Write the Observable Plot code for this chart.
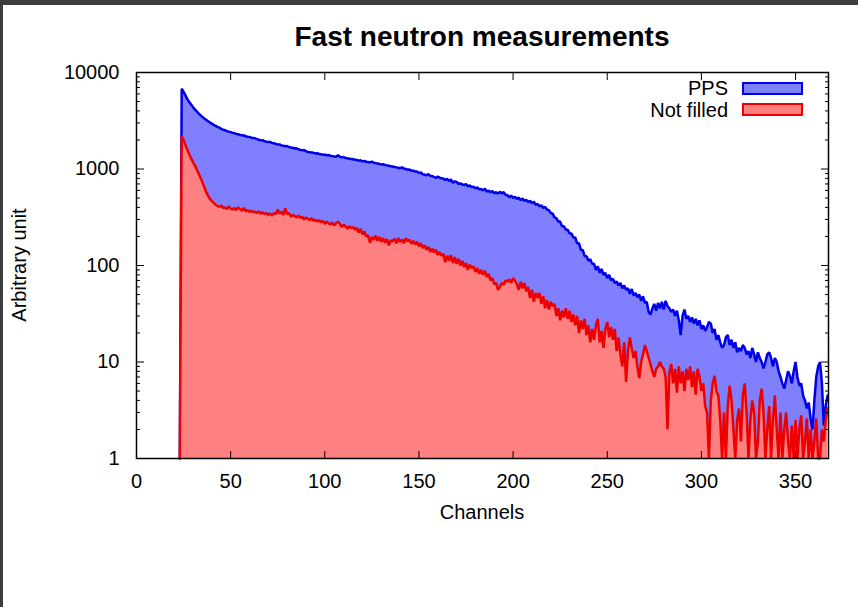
<!DOCTYPE html>
<html>
<head>
<meta charset="utf-8">
<script src="https://cdn.jsdelivr.net/npm/d3@7"></script>
<script src="https://cdn.jsdelivr.net/npm/@observablehq/plot@0.6"></script>
<style>
  html, body { margin: 0; padding: 0; background: #fff; }
  #page { position: relative; width: 858px; height: 607px; background: #fff; overflow: hidden;
          font-family: "Liberation Sans", Arial, Helvetica, sans-serif; color: #000; }
  #chart { position: absolute; left: 0; top: 0; }
  .abs { position: absolute; white-space: nowrap; }
  #title { left: 136px; width: 692px; top: 23px; text-align: center; font-weight: bold; font-size: 28px; line-height: 28px; }
  #xlabel { left: 136px; width: 692px; top: 502px; text-align: center; font-size: 20px; line-height: 20px; }
  #ylabel { left: -81px; top: 255px; width: 200px; height: 20px; text-align: center; font-size: 20px; line-height: 20px; transform: rotate(-90deg); transform-origin: 50% 50%; }
  .legtext { right: 130px; font-size: 20px; line-height: 20px; text-align: right; }
  .swatch { left: 742px; width: 61px; box-sizing: border-box; border-width: 2px; border-style: solid; }
  #bandTop { left: 0; top: 0; width: 858px; height: 5px; background: #3d3d3d; }
  #bandLeft { left: 0; top: 0; width: 3px; height: 607px; background: #3d3d3d; }
</style>
</head>
<body>
<div id="page">
  <div id="chart"></div>
  <div id="title" class="abs">Fast neutron measurements</div>
  <div id="xlabel" class="abs">Channels</div>
  <div id="ylabel" class="abs">Arbitrary unit</div>
  <div id="legend"></div>
  <div id="bandTop" class="abs"></div>
  <div id="bandLeft" class="abs"></div>
</div>
<script>
// ---- data ----
const firstChannel = 23;

const ppsCounts = [
  1, 6800, 6300, 5800, 5300, 4950, 4650, 4380, 4150, 3950,
  3760, 3600, 3470, 3340, 3230, 3130, 3030, 2950, 2870, 2800,
  2730, 2680, 2610, 2560, 2520, 2470, 2440, 2410, 2370, 2350,
  2310, 2290, 2250, 2230, 2240, 2180, 2160, 2150, 2110, 2090,
  2080, 2040, 2010, 1980, 1990, 1940, 1920, 1900, 1910, 1860,
  1850, 1820, 1790, 1800, 1750, 1740, 1720, 1730, 1690, 1670,
  1660, 1630, 1640, 1600, 1580, 1560, 1570, 1530, 1500, 1490,
  1480, 1470, 1450, 1460, 1430, 1420, 1400, 1410, 1390, 1400,
  1370, 1360, 1350, 1340, 1390, 1340, 1320, 1330, 1300, 1290,
  1280, 1270, 1260, 1250, 1240, 1220, 1230, 1200, 1210, 1190,
  1180, 1170, 1190, 1160, 1150, 1140, 1130, 1110, 1120, 1100,
  1090, 1080, 1070, 1060, 1050, 1040, 1030, 1020, 1040, 1010,
  1000, 985, 990, 960, 965, 940, 945, 910, 920, 880,
  875, 860, 885, 850, 845, 830, 805, 835, 815, 800,
  795, 770, 790, 750, 780, 720, 745, 735, 700, 710,
  690, 680, 700, 660, 675, 650, 655, 630, 645, 615,
  620, 600, 625, 585, 595, 575, 590, 560, 575, 555,
  580, 560, 575, 540, 535, 510, 530, 500, 515, 490,
  505, 475, 495, 465, 480, 455, 470, 440, 460, 425,
  435, 410, 420, 395, 405, 380, 375, 350, 345, 315,
  310, 285, 285, 255, 255, 235, 235, 215, 215, 195,
  195, 170, 170, 145, 145, 125, 125, 112, 116, 104,
  104, 90, 98, 84, 92, 80, 84, 74, 80, 70,
  73, 66, 68, 62, 66, 58, 62, 56, 58, 51,
  57, 49, 52, 47, 50, 43, 48, 41, 42, 33,
  31, 36, 40, 34, 41, 36, 42, 35, 43, 38,
  36, 33, 35, 30, 34, 27, 19, 30, 35, 28,
  30, 26, 29, 25, 28, 24, 27, 22, 24, 21,
  23, 26, 25, 20, 22, 17, 19, 16, 14, 15,
  18, 19, 15, 17, 14, 16, 12.6, 14, 13, 15,
  14, 12, 13, 11, 14, 12, 10, 12.6, 11, 10,
  8.6, 10, 12, 12.6, 11, 9, 11, 10, 8, 7,
  6, 5.3, 6.5, 8, 7.2, 6, 8, 10, 7, 5.7,
  6, 4.5, 4, 3.3, 3.8, 2.6, 2, 4, 7, 9,
  10, 6, 2.2, 3.5, 4.5
];

const notFilledCounts = [
  1, 2200, 2000, 1780, 1580, 1420, 1290, 1180, 1090, 990,
  900, 810, 730, 650, 580, 530, 490, 465, 445, 425,
  415, 405, 420, 395, 400, 385, 410, 390, 380, 395,
  375, 400, 385, 370, 395, 365, 375, 360, 370, 355,
  360, 350, 365, 345, 355, 340, 350, 335, 345, 330,
  350, 340, 380, 345, 360, 335, 390, 340, 350, 320,
  335, 325, 315, 330, 310, 320, 300, 315, 305, 295,
  310, 290, 300, 285, 295, 280, 290, 270, 285, 275,
  265, 280, 260, 275, 285, 270, 250, 265, 255, 240,
  255, 245, 250, 235, 245, 220, 240, 210, 225, 200,
  205, 172, 198, 185, 205, 180, 198, 176, 192, 172,
  188, 162, 182, 178, 190, 170, 192, 175, 186, 170,
  192, 178, 185, 168, 180, 165, 176, 158, 170, 152,
  162, 146, 156, 138, 150, 136, 146, 128, 138, 126,
  132, 108, 126, 112, 128, 106, 122, 104, 118, 100,
  112, 96, 106, 90, 102, 94, 98, 86, 94, 82,
  90, 80, 88, 76, 82, 70, 74, 64, 66, 56,
  60, 66, 63, 70, 68, 72, 66, 74, 70, 64,
  56, 68, 58, 66, 54, 60, 46, 56, 42, 52,
  46, 52, 40, 48, 36, 44, 35, 42, 38, 40,
  30, 36, 27, 34, 29, 36, 28, 34, 26, 31,
  24, 30, 20, 27, 22, 28, 19, 24, 16, 22,
  17, 24, 28, 16, 21, 14, 22, 26, 18, 23,
  17, 22, 13, 18, 12, 9, 16, 6.2, 13, 18,
  14, 11, 13, 9, 6.8, 10, 12, 15, 13, 11,
  9.5, 8, 7, 8.5, 9, 10, 9, 8.5, 7, 2,
  7.8, 9.5, 6, 8.5, 4.8, 9, 6, 8, 5, 8.5,
  6.5, 9, 5.5, 8, 4.6, 8.5, 7, 5, 6, 3.5,
  3, 1, 4, 6, 7.2, 5, 4.5, 2.5, 1, 3,
  1, 3.5, 5.7, 4, 2, 1, 2.5, 3.3, 1.5, 4.5,
  6, 3, 1, 2.5, 4, 3, 1, 1.5, 4, 5.3,
  3, 1, 2, 3.5, 1, 2.5, 4.5, 2, 1, 3,
  1, 2, 3, 1.5, 1, 2.2, 1, 2.5, 1, 2,
  2.8, 1, 1.5, 2.6, 1, 2, 1, 1.5, 2.6, 1,
  1, 2, 1.5, 2.5, 3.3
];

const xTicks = [0, 50, 100, 150, 200, 250, 300, 350];
const yMajorTicks = [1, 10, 100, 1000, 10000];
const yMinorTicks = [2, 3, 4, 5, 6, 7, 8, 9, 20, 30, 40, 50, 60, 70, 80, 90,
  200, 300, 400, 500, 600, 700, 800, 900, 2000, 3000, 4000, 5000, 6000, 7000, 8000, 9000];

const seriesNames = ["PPS", "Not filled"];
const fillColors = ["#8080ff", "#ff8080"];
const lineColors = ["#0000e8", "#ee0000"];

// ---- build tables ----
const pps = ppsCounts.map((v, i) => ({ch: firstChannel + i, v}));
const nf = notFilledCounts.map((v, i) => ({ch: firstChannel + i, v}));

const font = "'Liberation Sans', Arial, Helvetica, sans-serif";

const chart = Plot.plot({
  width: 858,
  height: 607,
  marginTop: 72,
  marginBottom: 149,
  marginLeft: 136,
  marginRight: 30,
  style: {fontFamily: font, fontSize: "20px", color: "#000", background: "transparent", overflow: "visible"},
  x: {domain: [0, 367.5], label: null},
  y: {type: "log", domain: [1, 10000], label: null},
  marks: [
    Plot.areaY(pps, {x: "ch", y1: 1, y2: "v", fill: fillColors[0]}),
    Plot.lineY(pps, {x: "ch", y: "v", stroke: lineColors[0], strokeWidth: 2.5, strokeLinejoin: "miter"}),
    Plot.areaY(nf, {x: "ch", y1: 1, y2: "v", fill: fillColors[1]}),
    Plot.lineY(nf, {x: "ch", y: "v", stroke: lineColors[1], strokeWidth: 2.5, strokeLinejoin: "miter"}),
    Plot.axisX({ticks: xTicks, tickSize: -7, tickPadding: 22, tickFormat: d => String(d), fontSize: 20, label: null}),
    Plot.axisX({anchor: "top", ticks: xTicks, tickSize: -7, tickFormat: () => "", label: null}),
    Plot.axisY({ticks: yMajorTicks, tickSize: -8, tickPadding: 25, tickFormat: d => String(d), fontSize: 20, label: null}),
    Plot.axisY({ticks: yMinorTicks, tickSize: -4, tickFormat: () => "", label: null}),
    Plot.axisY({anchor: "right", ticks: yMajorTicks, tickSize: -8, tickFormat: () => "", label: null}),
    Plot.axisY({anchor: "right", ticks: yMinorTicks, tickSize: -4, tickFormat: () => "", label: null}),
    Plot.frame({stroke: "#000", strokeWidth: 1.5})
  ]
});
document.getElementById("chart").appendChild(chart);

// ---- legend (top right, inside plot) ----
const legend = document.getElementById("legend");
const legTops = [78, 100];
const swTops = [82, 103];
seriesNames.forEach((name, i) => {
  const t = document.createElement("div");
  t.className = "abs legtext";
  t.style.top = legTops[i] + "px";
  t.textContent = name;
  legend.appendChild(t);
  const s = document.createElement("div");
  s.className = "abs swatch";
  s.style.top = swTops[i] + "px";
  s.style.height = "13px";
  s.style.background = fillColors[i];
  s.style.borderColor = lineColors[i];
  legend.appendChild(s);
});
</script>
</body>
</html>
